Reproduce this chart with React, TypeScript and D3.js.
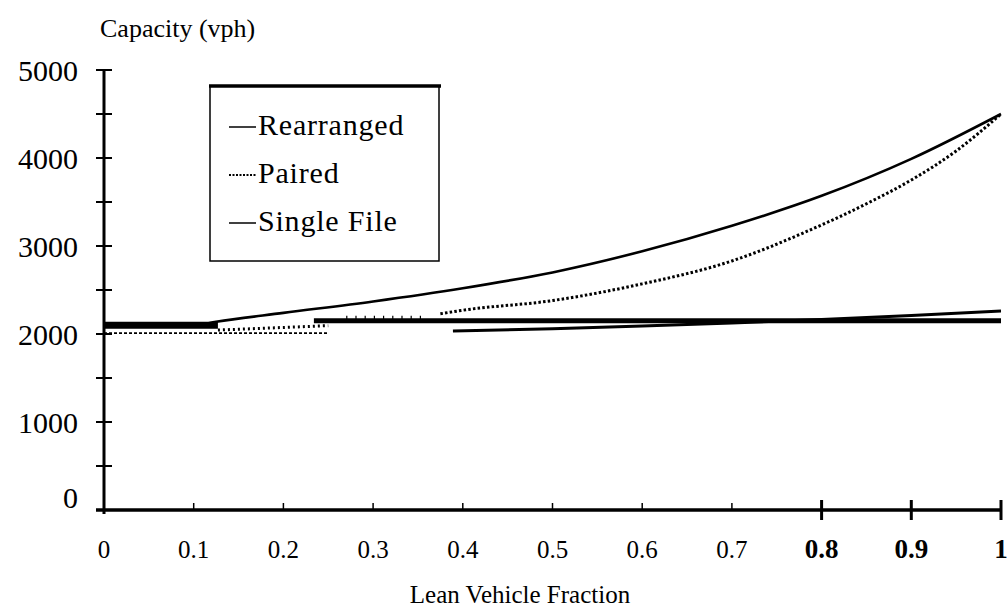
import React from "react";
import * as d3 from "d3";

// ---- data ----
const xTickValues = [0, 0.1, 0.2, 0.3, 0.4, 0.5, 0.6, 0.7, 0.8, 0.9, 1];
const xTickLabels = ["0", "0.1", "0.2", "0.3", "0.4", "0.5", "0.6", "0.7", "0.8", "0.9", "1"];
const yTickValues = [0, 1000, 2000, 3000, 4000, 5000];
const yMinorTickValues = [500, 1500, 2500, 3500, 4500];

const rearrangedFrac = [0, 0.1, 0.125, 0.2, 0.3, 0.4, 0.5, 0.6, 0.7, 0.8, 0.9, 1];
const rearrangedCap = [2100, 2100, 2140, 2240, 2370, 2520, 2700, 2940, 3230, 3570, 3990, 4500];

const pairedLowFrac = [0, 0.25];
const pairedLowCap = [2010, 2010];
const pairedMidFrac = [0.127, 0.19, 0.25];
const pairedMidCap = [2045, 2070, 2095];
const pairedTickFrac = [0.27, 0.36];
const pairedTickCap = [2185, 2185];
const pairedMainFrac = [0.375, 0.4, 0.5, 0.6, 0.7, 0.78, 0.85, 0.9, 0.95, 1];
const pairedMainCap = [2230, 2270, 2380, 2570, 2830, 3150, 3480, 3750, 4080, 4500];

const singleAFrac = [0, 0.127];
const singleACap = [2100, 2100];
const singleBFrac = [0.234, 1];
const singleBCap = [2150, 2150];
const singleCFrac = [0.389, 0.5, 0.6, 0.7, 0.8, 0.9, 1];
const singleCCap = [2035, 2060, 2090, 2125, 2165, 2210, 2260];

const legendItems = ["Rearranged", "Paired", "Single File"];

const FONT = '"Times New Roman", "Liberation Serif", Times, "DejaVu Serif", serif';

export default function App() {
  const W = 1007;
  const H = 613;
  const x = d3.scaleLinear().domain([0, 1]).range([104, 1001]);
  const y = d3.scaleLinear().domain([0, 5000]).range([510, 70]);

  const line = d3
    .line<[number, number]>()
    .x((d) => x(d[0]))
    .y((d) => y(d[1]))
    .curve(d3.curveMonotoneX);

  const seg = (fx: number[], cy: number[]) =>
    line(fx.map((f, i) => [f, cy[i]] as [number, number])) || "";

  const xAxisY = y(0);
  const tStyle = { fontFamily: FONT };

  return (
    <div style={{ position: "absolute", left: 0, top: 0 }}>
      <svg width={W} height={H} style={{ display: "block", background: "#fff" }}>
        <rect x={0} y={0} width={W} height={H} fill="#fff" />
        {/* y axis title */}
        <text x={100} y={37} style={tStyle} fontSize={26} fill="#000">
          Capacity (vph)
        </text>

        {/* y axis */}
        <line x1={x(0)} x2={x(0)} y1={y(5000)} y2={xAxisY + 4} stroke="#000" strokeWidth={3} />
        {yTickValues.concat(yMinorTickValues).map((v) => (
          <line
            key={"yt" + v}
            x1={x(0) - 8}
            x2={x(0) + 8}
            y1={y(v)}
            y2={y(v)}
            stroke="#000"
            strokeWidth={2}
          />
        ))}
        {yTickValues.map((v) => (
          <text
            key={"yl" + v}
            x={78}
            y={Math.min(y(v), xAxisY - 13)}
            dy="0.35em"
            textAnchor="end"
            style={tStyle}
            fontSize={30}
            fill="#000"
          >
            {v}
          </text>
        ))}

        {/* x axis */}
        <line x1={x(0) - 8} x2={x(1)} y1={xAxisY} y2={xAxisY} stroke="#000" strokeWidth={3.5} />
        {xTickValues.map((v) => (
          <line
            key={"xt" + v}
            x1={x(v)}
            x2={x(v)}
            y1={v >= 0.8 ? xAxisY - 10 : xAxisY - 7}
            y2={v >= 0.8 ? xAxisY + 10 : xAxisY}
            stroke="#000"
            strokeWidth={v >= 0.8 ? 3 : 1.5}
          />
        ))}
        {xTickValues.map((v, i) => (
          <text
            key={"xl" + v}
            x={x(v)}
            y={558}
            textAnchor="middle"
            style={tStyle}
            fontSize={v >= 0.8 ? 27 : 25}
            fontWeight={v >= 0.8 ? "bold" : "normal"}
            fill="#000"
          >
            {xTickLabels[i]}
          </text>
        ))}
        <text x={520} y={603} textAnchor="middle" style={tStyle} fontSize={25} fill="#000">
          Lean Vehicle Fraction
        </text>

        {/* series */}
        <path d={seg(rearrangedFrac, rearrangedCap)} fill="none" stroke="#000" strokeWidth={2.6} />

        <path d={seg(pairedLowFrac, pairedLowCap)} fill="none" stroke="#000" strokeWidth={1.6} strokeDasharray="3 2" />
        <path d={seg(pairedMidFrac, pairedMidCap)} fill="none" stroke="#000" strokeWidth={3} strokeDasharray="2 3" />
        <path d={seg(pairedTickFrac, pairedTickCap)} fill="none" stroke="#000" strokeWidth={4} strokeDasharray="1.2 8" />
        <path d={seg(pairedMainFrac, pairedMainCap)} fill="none" stroke="#000" strokeWidth={3} strokeDasharray="2.5 2.2" />

        <path d={seg(singleAFrac, singleACap)} fill="none" stroke="#000" strokeWidth={7} />
        <path d={seg(singleBFrac, singleBCap)} fill="none" stroke="#000" strokeWidth={5} />
        <path d={seg(singleCFrac, singleCCap)} fill="none" stroke="#000" strokeWidth={3} />

        {/* legend */}
        <rect x={210} y={86} width={229} height={175} fill="none" stroke="#000" strokeWidth={1.5} />
        <line x1={209} x2={441} y1={86} y2={86} stroke="#000" strokeWidth={3.5} />
        {legendItems.map((name, i) => {
          const ly = 127 + i * 48;
          return (
            <g key={name}>
              <line
                x1={229}
                x2={256}
                y1={ly}
                y2={ly}
                stroke="#000"
                strokeWidth={i === 1 ? 1.8 : 1.5}
                strokeDasharray={i === 1 ? "2 1.5" : undefined}
              />
              <text x={258} y={ly + 8} style={tStyle} fontSize={30} letterSpacing={0.8} fill="#000">
                {name}
              </text>
            </g>
          );
        })}
      </svg>
    </div>
  );
}
